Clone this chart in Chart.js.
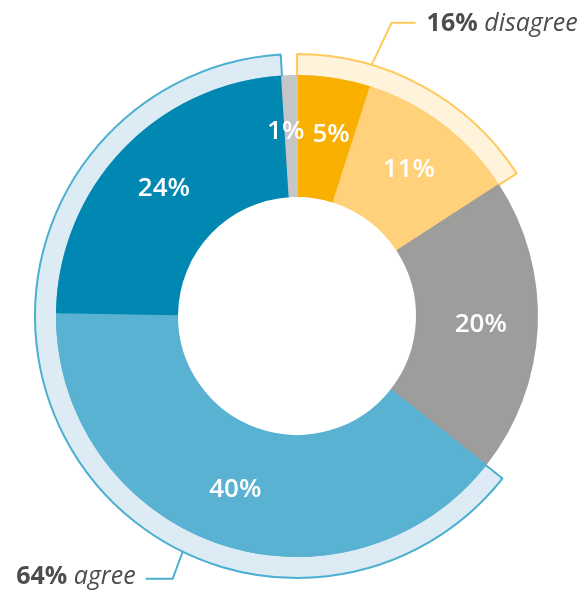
<!DOCTYPE html>
<html>
<head>
<meta charset="utf-8">
<script src="https://cdn.jsdelivr.net/npm/chart.js@4.4.0/dist/chart.umd.min.js"></script>
<style>
  html, body { margin: 0; padding: 0; background: #fff; }
  #wrap { width: 582px; height: 593px; }
</style>
</head>
<body>
<div id="wrap"><canvas id="donut" width="582" height="593"></canvas></div>
<script>
// inner donut, clockwise from 12 o'clock
const segLabels = ['5%', '11%', '20%', '40%', '24%', '1%'];
const segValues = [5, 11, 20, 40, 24, 1];
const segColors = ['#F9B000', '#FFD17A', '#9D9D9C', '#5AB2D2', '#0087B2', '#C6C6C6'];

// outer ring: groups over the inner slices (empty entries are gaps)
const groupPct = ['16%', '', '64%', ''];
const groupNames = ['disagree', '', 'agree', ''];
const groupValues = [16, 20, 64, 1];
const groupFill = ['#FFF3DC', 'rgba(0,0,0,0)', '#DCEBF4', 'rgba(0,0,0,0)'];
const groupLine = ['#FFC95C', 'rgba(0,0,0,0)', '#4AAFD0', 'rgba(0,0,0,0)'];

const FONT = '"Open Sans", sans-serif';
const TEXT_DARK = '#4D4D4D';

// white percentage labels in the middle of each slice
const sliceLabels = {
    id: 'sliceLabels',
    afterDatasetsDraw(chart) {
        const meta = chart.getDatasetMeta(1);
        const ctx = chart.ctx;
        ctx.save();
        ctx.fillStyle = '#fff';
        ctx.font = '600 26px ' + FONT;
        ctx.textAlign = 'center';
        ctx.textBaseline = 'middle';

        const pos = meta.data.map((arc, i) => {
            const p = arc.getProps(['x', 'y', 'startAngle', 'endAngle', 'innerRadius', 'outerRadius']);
            const mid = (p.startAngle + p.endAngle) / 2;
            const r = (p.innerRadius + p.outerRadius) / 2 + 4;
            return {
                x: p.x + r * Math.cos(mid),
                y: p.y + r * Math.sin(mid),
                w: ctx.measureText(segLabels[i]).width
            };
        });

        // push neighbouring labels of thin slices apart
        const n = pos.length;
        for (let i = 0; i < n; i++) {
            const a = pos[i], b = pos[(i + 1) % n];
            if (Math.abs(a.y - b.y) > 20) continue;
            const need = (a.w + b.w) / 2 + 8;
            const d = Math.abs(a.x - b.x);
            if (d < need) {
                const s = (need - d) / 2;
                const left = a.x < b.x ? a : b, right = a.x < b.x ? b : a;
                left.x -= s;
                right.x += s;
            }
        }

        pos.forEach((p, i) => ctx.fillText(segLabels[i], p.x, p.y));
        ctx.restore();
    }
};

// leader lines + "xx% name" captions for the outer ring
const callouts = {
    id: 'callouts',
    afterDraw(chart) {
        const meta = chart.getDatasetMeta(0);
        const ctx = chart.ctx;

        function point(arc, frac) {
            const p = arc.getProps(['x', 'y', 'startAngle', 'endAngle', 'outerRadius']);
            const a = p.startAngle + (p.endAngle - p.startAngle) * frac;
            return { x: p.x + p.outerRadius * Math.cos(a), y: p.y + p.outerRadius * Math.sin(a) };
        }

        function caption(i, x, y, alignRight) {
            ctx.font = '700 25px ' + FONT;
            const w1 = ctx.measureText(groupPct[i] + ' ').width;
            ctx.font = 'italic 400 25px ' + FONT;
            const w2 = ctx.measureText(groupNames[i]).width;
            let left = alignRight ? x - w1 - w2 : x;
            ctx.fillStyle = TEXT_DARK;
            ctx.textAlign = 'left';
            ctx.textBaseline = 'middle';
            ctx.font = '700 25px ' + FONT;
            ctx.fillText(groupPct[i], left, y);
            ctx.font = 'italic 400 25px ' + FONT;
            ctx.fillText(groupNames[i], left + w1, y);
        }

        ctx.save();
        ctx.lineWidth = 2;

        // disagree
        let a = point(meta.data[0], 0.29);
        ctx.strokeStyle = groupLine[0];
        ctx.beginPath();
        ctx.moveTo(a.x, a.y);
        ctx.lineTo(a.x + 20, a.y - 42);
        ctx.lineTo(a.x + 44, a.y - 42);
        ctx.stroke();
        caption(0, a.x + 55, a.y - 41, false);

        // agree
        a = point(meta.data[2], 0.34);
        ctx.strokeStyle = groupLine[2];
        ctx.beginPath();
        ctx.moveTo(a.x, a.y);
        ctx.lineTo(a.x - 10, a.y + 27);
        ctx.lineTo(a.x - 37, a.y + 27);
        ctx.stroke();
        caption(2, a.x - 47, a.y + 25, true);

        ctx.restore();
    }
};

new Chart(document.getElementById('donut'), {
    type: 'doughnut',
    data: {
        labels: segLabels,
        datasets: [
            {
                data: groupValues,
                backgroundColor: groupFill,
                borderColor: groupLine,
                borderWidth: [2, 0, 2, 0],
                weight: 22,
                order: 1
            },
            {
                data: segValues,
                backgroundColor: segColors,
                borderColor: segColors,
                borderWidth: 2,
                weight: 120,
                order: 0
            }
        ]
    },
    options: {
        responsive: false,
        animation: false,
        devicePixelRatio: 1,
        radius: 262,
        cutout: '45.8%',
        layout: { padding: { left: 12, top: 39, right: 0, bottom: 0 } },
        plugins: {
            legend: { display: false },
            tooltip: { enabled: false }
        }
    },
    plugins: [sliceLabels, callouts]
});
</script>
</body>
</html>
